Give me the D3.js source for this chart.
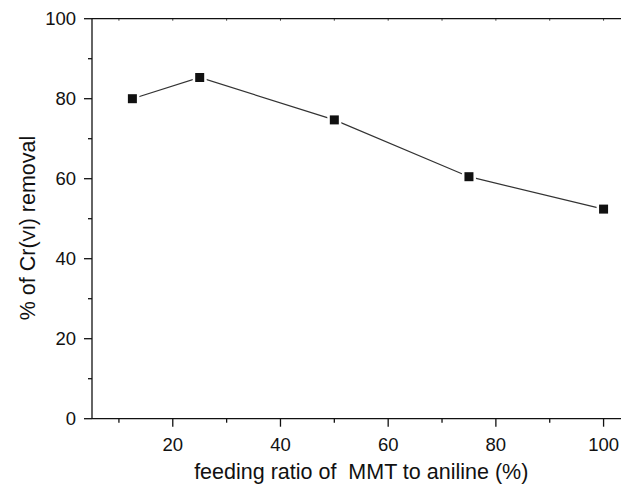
<!DOCTYPE html>
<html>
<head>
<meta charset="utf-8">
<script src="https://cdn.jsdelivr.net/npm/d3@7"></script>
<style>
  html, body { margin: 0; padding: 0; background: #fff; }
  svg text { font-family: "Liberation Sans", Arial, Helvetica, sans-serif; fill: #111; }
</style>
</head>
<body>
<svg id="chart" width="621" height="484"></svg>
<script>
  // Data
  const ratios = [12.5, 25, 50, 75, 100];
  const removal = [80, 85.3, 74.7, 60.5, 52.4];
  const xMajorTicks = [20, 40, 60, 80, 100];
  const xMinorTicks = [10, 30, 50, 70, 90];
  const yMajorTicks = [0, 20, 40, 60, 80, 100];
  const yMinorTicks = [10, 30, 50, 70, 90];
  const xTitle = "feeding ratio of \u00a0MMT to aniline (%)";

  const svg = d3.select("#chart");

  // Plot frame
  const plotLeft = 92, plotRight = 630.5, plotTop = 18.7, plotBottom = 418.7;

  const x = d3.scaleLinear().domain([5, 105]).range([plotLeft, plotRight]);
  const y = d3.scaleLinear().domain([0, 100]).range([plotBottom, plotTop]);

  const points = ratios.map((r, i) => ({ x: r, y: removal[i] }));

  // Axes lines
  const axisG = svg.append("g").attr("stroke", "#111").attr("stroke-width", 1.3);
  axisG.append("line").attr("x1", plotLeft).attr("x2", plotLeft).attr("y1", plotTop).attr("y2", plotBottom);
  axisG.append("line").attr("x1", plotLeft).attr("x2", 621).attr("y1", plotBottom).attr("y2", plotBottom);
  axisG.append("line").attr("x1", plotLeft).attr("x2", 621).attr("y1", plotTop).attr("y2", plotTop);

  // Y ticks
  axisG.selectAll(".ymaj").data(yMajorTicks).join("line")
    .attr("class", "ymaj")
    .attr("x1", plotLeft - 8).attr("x2", plotLeft)
    .attr("y1", d => y(d)).attr("y2", d => y(d));
  axisG.selectAll(".ymin").data(yMinorTicks).join("line")
    .attr("class", "ymin")
    .attr("x1", plotLeft - 4).attr("x2", plotLeft)
    .attr("y1", d => y(d)).attr("y2", d => y(d));

  // X ticks (bottom)
  axisG.selectAll(".xmaj").data(xMajorTicks).join("line")
    .attr("class", "xmaj")
    .attr("x1", d => x(d)).attr("x2", d => x(d))
    .attr("y1", plotBottom).attr("y2", plotBottom + 8);
  axisG.selectAll(".xmin").data(xMinorTicks).join("line")
    .attr("class", "xmin")
    .attr("x1", d => x(d)).attr("x2", d => x(d))
    .attr("y1", plotBottom).attr("y2", plotBottom + 4);

  // Tiny ticks on the top frame
  axisG.selectAll(".xtop").data(xMajorTicks.concat(xMinorTicks)).join("line")
    .attr("class", "xtop")
    .attr("stroke-width", 0.8)
    .attr("x1", d => x(d)).attr("x2", d => x(d))
    .attr("y1", plotTop).attr("y2", plotTop + 2);

  // Tick labels
  svg.selectAll(".ylab").data(yMajorTicks).join("text")
    .attr("class", "ylab")
    .attr("x", 76).attr("y", d => y(d))
    .attr("dy", "0.36em")
    .attr("text-anchor", "end")
    .attr("font-size", 18.5)
    .text(d => d);

  svg.selectAll(".xlab").data(xMajorTicks).join("text")
    .attr("class", "xlab")
    .attr("x", d => x(d)).attr("y", 451)
    .attr("text-anchor", "middle")
    .attr("font-size", 18.5)
    .text(d => d);

  // Axis titles
  svg.append("text")
    .attr("x", (plotLeft + plotRight) / 2).attr("y", 479)
    .attr("text-anchor", "middle")
    .attr("font-size", 21.5)
    .text(xTitle);

  const yTitle = svg.append("text")
    .attr("transform", "translate(35,228) rotate(-90)")
    .attr("text-anchor", "middle")
    .attr("font-size", 21.5);
  yTitle.append("tspan").text("% of Cr(");
  yTitle.append("tspan").attr("font-size", 17).text("VI");
  yTitle.append("tspan").text(") removal");

  // Line
  const line = d3.line().x(d => x(d.x)).y(d => y(d.y));
  svg.append("path")
    .datum(points)
    .attr("d", line)
    .attr("fill", "none")
    .attr("stroke", "#333")
    .attr("stroke-width", 1.2);

  // Markers with a small white halo so the line stops short
  const size = 9;
  svg.selectAll(".halo").data(points).join("rect")
    .attr("class", "halo")
    .attr("x", d => x(d.x) - size / 2 - 2.5)
    .attr("y", d => y(d.y) - size / 2 - 2.5)
    .attr("width", size + 5).attr("height", size + 5)
    .attr("fill", "#fff");
  svg.selectAll(".mark").data(points).join("rect")
    .attr("class", "mark")
    .attr("x", d => x(d.x) - size / 2)
    .attr("y", d => y(d.y) - size / 2)
    .attr("width", size).attr("height", size)
    .attr("fill", "#111");
</script>
</body>
</html>
